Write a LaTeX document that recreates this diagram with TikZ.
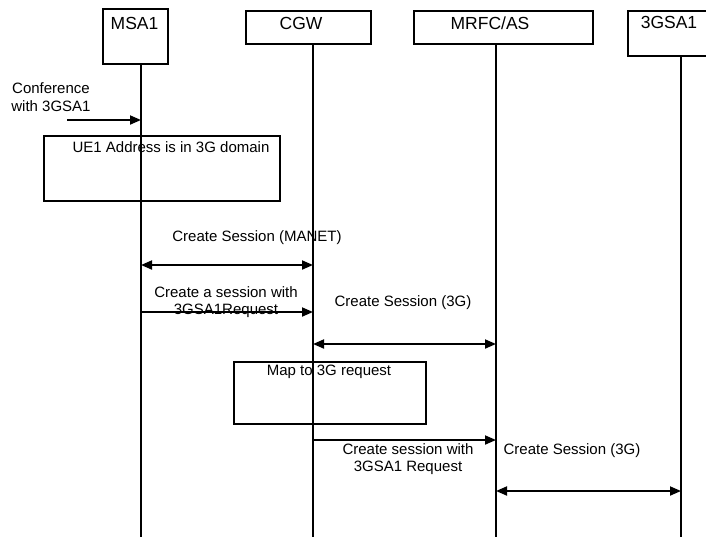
\documentclass[tikz,border=0pt]{standalone}
\usepackage{fontspec}
\setmainfont{Liberation Sans}
\usetikzlibrary{arrows.meta}
\begin{document}
\begin{tikzpicture}[x=1pt,y=-1pt,
  every node/.style={inner sep=0pt, font=\fontsize{15}{17.5}\selectfont},
  hbox/.style={draw, line width=1.8pt, anchor=north west},
  htext/.style={font=\fontsize{17.5}{20}\selectfont},
  notebox/.style={draw, line width=1.8pt, anchor=north west},
  msgtext/.style={align=center},
  life/.style={line width=1.8pt},
  tip/.style={-{Triangle[length=11pt,width=9pt]}},
  twoway/.style={{Triangle[length=11pt,width=9pt]}-{Triangle[length=11pt,width=9pt]}},
  msg/.style={line width=1.8pt}
]
\useasboundingbox (0,0) rectangle (706,536);
\clip (0,0) rectangle (706,536);

% lifeline x positions
\def\xa{141}
\def\xb{313}
\def\xc{496}
\def\xd{681}

% header boxes
\node[hbox, minimum width=65, minimum height=55] (msa1) at (102,8) {};
\node[htext] (msa1t) at (134.5,23) {MSA1};
\node[hbox, minimum width=125, minimum height=33] (cgw) at (245,10) {};
\node[htext] (cgwt) at (301,23) {CGW};
\node[hbox, minimum width=179, minimum height=33] (mrfc) at (413,10) {};
\node[htext] (mrfct) at (490,23) {MRFC/AS};
\node[hbox, minimum width=83, minimum height=45] (gsa) at (627,10) {};
\node[htext] (gsat) at (669,22) {3GSA1};

% lifelines
\coordinate (la) at (\xa,537);
\coordinate (lb) at (\xb,537);
\coordinate (lc) at (\xc,537);
\coordinate (ld) at (\xd,537);
\draw[life] (msa1.south -| la) -- (la);
\draw[life] (cgw.south -| lb) -- (lb);
\draw[life] (mrfc.south -| lc) -- (lc);
\draw[life] (gsa.south -| ld) -- (ld);

% incoming conference request
\node[msgtext] (conf) at (51,97) {Conference\\with 3GSA1};
\coordinate (confs) at (67,120);
\coordinate (confe) at (\xa,120);
\draw[msg,tip] (confs) -- (confe);

% local decision at MSA1
\node[notebox, minimum width=236, minimum height=65] (ue1) at (43,135) {};
\node (ue1t) at (171,147) {UE1 Address is in 3G domain};

% MANET session between MSA1 and CGW
\node (manet) at (257,238) {Create Session (MANET)};
\coordinate (m1a) at (\xa,265);
\coordinate (m1b) at (\xb,265);
\draw[msg,twoway] (m1a) -- (m1b);

% session request towards CGW
\node[msgtext] (req1) at (226,302) {Create a session with\\3GSA1Request};
\coordinate (m2a) at (\xa,312);
\coordinate (m2b) at (\xb,312);
\draw[msg,tip] (m2a) -- (m2b);

% 3G session between CGW and MRFC/AS
\node (s3g1) at (403,303) {Create Session (3G)};
\coordinate (m3a) at (\xb,344);
\coordinate (m3b) at (\xc,344);
\draw[msg,twoway] (m3a) -- (m3b);

% mapping step at CGW
\node[notebox, minimum width=192, minimum height=62] (map) at (233,361) {};
\node (mapt) at (329,372) {Map to 3G request};

% request towards MRFC/AS
\coordinate (m4a) at (\xb,440);
\coordinate (m4b) at (\xc,440);
\draw[msg,tip] (m4a) -- (m4b);
\node[msgtext] (req2) at (408,459) {Create session with\\3GSA1 Request};

% 3G session between MRFC/AS and 3GSA1
\node (s3g2) at (572,451) {Create Session (3G)};
\coordinate (m5a) at (\xc,491);
\coordinate (m5b) at (\xd,491);
\draw[msg,twoway] (m5a) -- (m5b);
\end{tikzpicture}
\end{document}
